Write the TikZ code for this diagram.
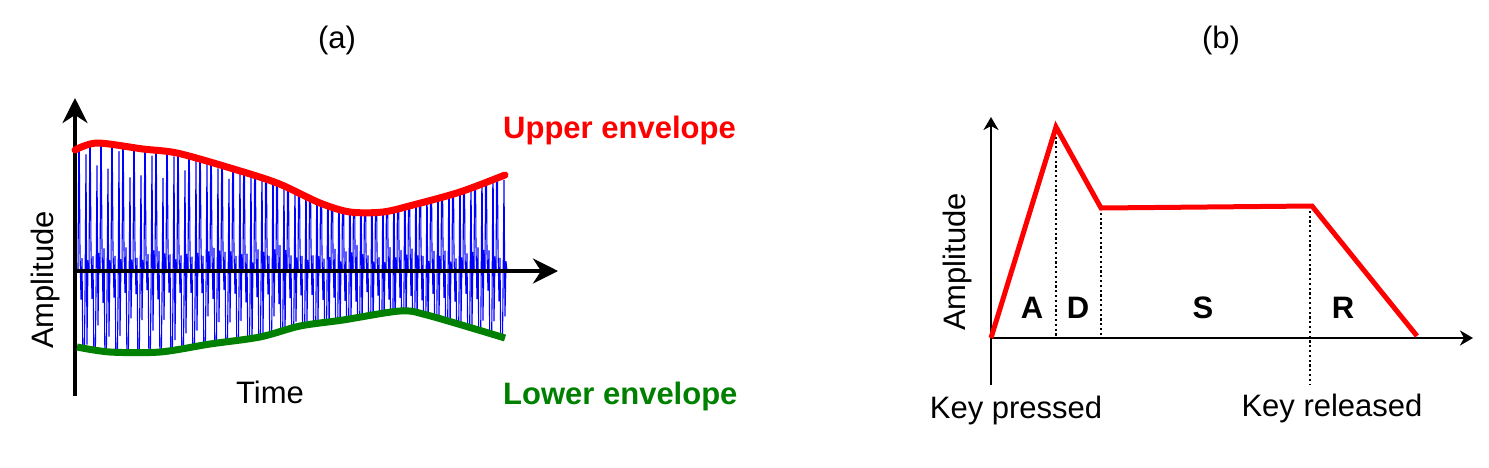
\documentclass[tikz,border=0pt]{standalone}
\usepackage{fontspec}
\setmainfont{Liberation Sans}
\usetikzlibrary{arrows.meta}
\definecolor{wblue}{RGB}{0,0,255}
\definecolor{ered}{RGB}{255,0,0}
\definecolor{egreen}{RGB}{0,128,0}
\tikzset{
  lbl/.style={font=\fontsize{31}{36}\selectfont, inner sep=0pt},
  blbl/.style={font=\fontsize{31}{36}\selectfont\bfseries, inner sep=0pt},
  axisA/.style={line width=4pt, -{Stealth[length=25pt,width=25pt,inset=8pt]}},
  axisB/.style={line width=2pt, -{Stealth[length=13pt,width=15pt,inset=4pt]}},
  guide/.style={line width=2pt, dash pattern=on 2.2pt off 2.6pt},
}
\begin{document}
\begin{tikzpicture}[x=1pt,y=-1pt]
\useasboundingbox (0,0) rectangle (1489,467);
% ---------- panel (a) ----------
\node[lbl] (ta) at (337,40) {(a)};
\coordinate (oa) at (75,271);
\coordinate (ya) at (75,98);
\coordinate (yb) at (75,396);
\coordinate (xa) at (558,271);
\begin{scope}
\clip plot[smooth] coordinates {(75,150) (97,143) (143,149) (177,153) (227,167) (277,183) (320,203) (350,212) (383,212) (413,205) (460,192) (512,172)}
  -- plot[smooth] coordinates {(512,340) (427,315) (400,311) (343,320) (300,326) (260,337) (210,344) (160,352) (110,352) (77,347)} -- cycle;
\pgfmathsetseed{11}
\foreach \k in {0,...,38}{
  \pgfmathsetmacro\xx{78+11*\k}
  \pgfmathsetmacro\su{271-90-40*rnd}
  \pgfmathsetmacro\sd{271+45+30*rnd}
  \pgfmathsetmacro\na{271-15-12*rnd}
  \pgfmathsetmacro\nb{271+18+15*rnd}
  \pgfmathsetmacro\nc{271-12-14*rnd}
  \pgfmathsetmacro\nd{271+15+20*rnd}
  \pgfmathsetmacro\ne{271-8-14*rnd}
  \draw[wblue, line width=1.1pt, line join=round]
    (\xx,271) -- (\xx+1,110) -- (\xx+2,\na) -- (\xx+3,\nb) -- (\xx+4,\nc)
    -- (\xx+5.5,430) -- (\xx+7,\nd) -- (\xx+8,\su) -- (\xx+9,\sd) -- (\xx+10,\ne) -- (\xx+11,271);
}
\end{scope}
\draw[axisA] (yb) -- (ya);
\draw[axisA] (oa) -- (xa);
\draw[ered, line width=7pt, line cap=round] plot[smooth] coordinates {(75,150) (97,143) (143,149) (177,153) (227,167) (277,183) (320,203) (350,212) (383,212) (413,205) (460,192) (505,175)};
\draw[egreen, line width=7pt] plot[smooth] coordinates {(77,347) (110,352) (160,352) (210,344) (260,337) (300,326) (343,320) (400,311) (427,315) (505,338)};
\node[blbl, text=ered, anchor=west] (ue) at (503,130) {Upper envelope};
\node[blbl, text=egreen, anchor=west] (le) at (503,396) {Lower envelope};
\node[lbl] (time) at (270,392) {Time};
\node[lbl, rotate=90] (ampa) at (45,280) {Amplitude};
% ---------- panel (b) ----------
\node[lbl] (tb) at (1221,40) {(b)};
\coordinate (ob) at (991,338);
\coordinate (yt) at (991,117);
\coordinate (ybot) at (991,385);
\coordinate (xt) at (1473,338);
\coordinate (pk) at (1056,127);
\coordinate (dc) at (1101,208);
\coordinate (sr) at (1312,206);
\coordinate (rz) at (1417,336);
\coordinate (pkb) at (1056,338);
\coordinate (dcb) at (1101,338);
\coordinate (srt) at (1310,206);
\coordinate (srb) at (1310,385);
\draw[axisB] (ybot) -- (yt);
\draw[axisB] (ob) -- (xt);
\draw[guide] (pk) -- (pkb);
\draw[guide] (dc) -- (dcb);
\draw[guide] (srt) -- (srb);
\draw[ered, line width=5pt, line join=miter] (ob) -- (pk) -- (dc) -- (sr) -- (rz);
\node[blbl] (la) at (1032,308) {A};
\node[blbl] (ld) at (1078,308) {D};
\node[blbl] (ls) at (1203,308) {S};
\node[blbl] (lr) at (1343,308) {R};
\node[lbl, rotate=90] (ampb) at (957,262) {Amplitude};
\node[lbl] (kp) at (1016,410) {Key pressed};
\node[lbl] (kr) at (1332,408) {Key released};
\end{tikzpicture}
\end{document}
